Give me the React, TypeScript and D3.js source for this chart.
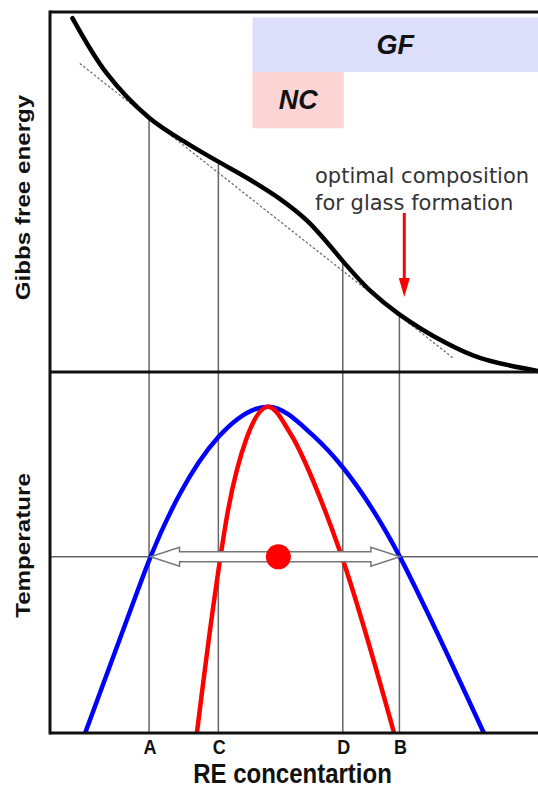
import * as d3 from "d3";

// composition markers on the x axis
const markerNames = ["A", "C", "D", "B"];
const markerX = [20.3, 34.5, 60.0, 71.6];
const markerGibbs = [70.6, 58.5, 30.8, 16.1];

// Gibbs free energy curve (top panel)
const gibbsX = [4.6, 11.6, 20.3, 28.7, 34.4, 41.0, 47.1, 50.2, 53.3, 57.4, 60.0, 65.6, 71.5, 81.1, 88.1, 100];
const gibbsG = [98.3, 83.0, 70.6, 63.0, 58.5, 53.4, 48.1, 44.9, 41.2, 35.0, 30.8, 22.6, 16.1, 8.1, 3.9, 0.3];

// common tangent (dashed)
const tangentX = [6.1, 82.6];
const tangentG = [85.7, 3.9];

// blue and red curves (bottom panel)
const blueX = [7.2, 17.4, 20.6, 26.6, 34.5, 44.7, 54.0, 60.1, 71.7, 75.8, 88.9];
const blueT = [0, 37.4, 48.8, 66.2, 82.0, 90.4, 82.3, 73.4, 48.8, 37.7, 0];
const redX = [30.1, 33.7, 36.5, 40.3, 44.7, 49.2, 56.7, 59.8, 70.5];
const redT = [0, 37.4, 61.8, 81.7, 90.4, 83.1, 60.4, 48.8, 0];

const levelT = 48.8;
const arrowX = [20.6, 71.7];
const dotX = 46.8;

// optimal composition arrow
const optimalX = 72.6;
const optimalG = [44.2, 20.8];
const optimalText = ["optimal composition", "for glass formation"];

// GF / NC ranges
const regionNames = ["GF", "NC"];
const regionX0 = [41.5, 41.5];
const regionX1 = [100, 60.2];
const regionTop = [98.5, 83.3];
const regionBottom = [83.3, 67.7];
const regionColors = ["#dcdefa", "#fcd4d4"];

const W = 538;
const H = 788;

export default function App() {
  const x = d3.scaleLinear().domain([0, 100]).range([50, 538]);
  const yG = d3.scaleLinear().domain([0, 100]).range([372, 12]);
  const yT = d3.scaleLinear().domain([0, 100]).range([733, 372]);

  const gibbsLine = d3.line<number>().x((d, i) => x(gibbsX[i])).y(d => yG(d)).curve(d3.curveCatmullRom.alpha(0.5));
  const tangentLine = d3.line<number>().x((d, i) => x(tangentX[i])).y(d => yG(d));
  const blueLine = d3.line<number>().x((d, i) => x(blueX[i])).y(d => yT(d)).curve(d3.curveMonotoneX);
  const redLine = d3.line<number>().x((d, i) => x(redX[i])).y(d => yT(d)).curve(d3.curveMonotoneX);

  // double arrow outline
  const ay = yT(levelT);
  const ax0 = x(arrowX[0]);
  const ax1 = x(arrowX[1]);
  const headLen = 29, headHalf = 9.5, shaftHalf = 5;
  const arrowPath = d3.path();
  arrowPath.moveTo(ax0, ay);
  arrowPath.lineTo(ax0 + headLen, ay - headHalf);
  arrowPath.lineTo(ax0 + headLen, ay - shaftHalf);
  arrowPath.lineTo(ax1 - headLen, ay - shaftHalf);
  arrowPath.lineTo(ax1 - headLen, ay - headHalf);
  arrowPath.lineTo(ax1, ay);
  arrowPath.lineTo(ax1 - headLen, ay + headHalf);
  arrowPath.lineTo(ax1 - headLen, ay + shaftHalf);
  arrowPath.lineTo(ax0 + headLen, ay + shaftHalf);
  arrowPath.lineTo(ax0 + headLen, ay + headHalf);
  arrowPath.closePath();

  const ox = x(optimalX);
  const oy0 = yG(optimalG[0]);
  const oy1 = yG(optimalG[1]);

  const sans = "'Liberation Sans', Arial, sans-serif";

  return (
    <svg width={W} height={H} style={{ position: "absolute", left: 0, top: 0, background: "#fff" }}>
      {regionNames.map((name, i) => (
        <g key={name}>
          <rect x={x(regionX0[i])} y={yG(regionTop[i])} width={x(regionX1[i]) - x(regionX0[i])}
            height={yG(regionBottom[i]) - yG(regionTop[i])} fill={regionColors[i]} />
          <text x={(x(regionX0[i]) + x(regionX1[i])) / 2} y={(yG(regionTop[i]) + yG(regionBottom[i])) / 2 + 9}
            textAnchor="middle" fontFamily={sans} fontWeight="bold" fontStyle="italic" fontSize={27} fill="#111">{name}</text>
        </g>
      ))}

      {/* vertical guide lines */}
      {markerX.map((m, i) => (
        <line key={i} x1={x(m)} x2={x(m)} y1={yG(markerGibbs[i])} y2={yT(0)} stroke="#666" strokeWidth={1.5} />
      ))}
      <line x1={x(0)} x2={x(100)} y1={ay} y2={ay} stroke="#666" strokeWidth={1.5} />

      <path d={tangentLine(tangentG) ?? ""} fill="none" stroke="#666" strokeWidth={1.2} strokeDasharray="2.5,2" />
      <path d={gibbsLine(gibbsG) ?? ""} fill="none" stroke="#000" strokeWidth={4.5} strokeLinecap="round" />

      <path d={blueLine(blueT) ?? ""} fill="none" stroke="#0000ff" strokeWidth={4.5} />
      <path d={redLine(redT) ?? ""} fill="none" stroke="#ff0000" strokeWidth={4.5} />

      <path d={arrowPath.toString()} fill="#fff" stroke="#777" strokeWidth={1.5} strokeLinejoin="miter" />
      <circle cx={x(dotX)} cy={ay} r={12.5} fill="#ff0000" />

      {/* optimal composition arrow */}
      <line x1={ox} x2={ox} y1={oy0} y2={oy1 - 18} stroke="#ff0000" strokeWidth={3} />
      <path d={`M${ox - 5.5},${oy1 - 19}L${ox + 5.5},${oy1 - 19}L${ox},${oy1}Z`} fill="#ff0000" />
      {optimalText.map((t, i) => (
        <text key={i} x={315} y={183 + i * 27} fontFamily="'DejaVu Sans', Verdana, sans-serif" fontSize={21}
          fill="#333">{t}</text>
      ))}

      {/* frame */}
      <line x1={50} x2={W} y1={yG(100)} y2={yG(100)} stroke="#111" strokeWidth={3} />
      <line x1={50} x2={W} y1={yG(0)} y2={yG(0)} stroke="#111" strokeWidth={3} />
      <line x1={50} x2={W} y1={yT(0)} y2={yT(0)} stroke="#111" strokeWidth={3} />
      <line x1={50} x2={50} y1={yG(100) - 1.5} y2={yT(0) + 1.5} stroke="#111" strokeWidth={3} />

      {markerNames.map((n, i) => (
        <text key={n} transform={`translate(${x(markerX[i]) + 1},754) scale(1,1.1)`} textAnchor="middle" fontFamily={sans}
          fontWeight="bold" fontSize={18} fill="#111">{n}</text>
      ))}

      <text transform={`translate(292.5,783) scale(1,1.18)`} textAnchor="middle" fontFamily={sans} fontWeight="bold"
        fontSize={24} fill="#111">RE concentartion</text>
      <text transform={`translate(30,197.5) scale(1,1.18) rotate(-90)`} textAnchor="middle" fontFamily={sans}
        fontWeight="bold" fontSize={20.5} fill="#111">Gibbs free energy</text>
      <text transform={`translate(30,545.5) scale(1,1.18) rotate(-90)`} textAnchor="middle" fontFamily={sans}
        fontWeight="bold" fontSize={20.5} fill="#111">Temperature</text>
    </svg>
  );
}
